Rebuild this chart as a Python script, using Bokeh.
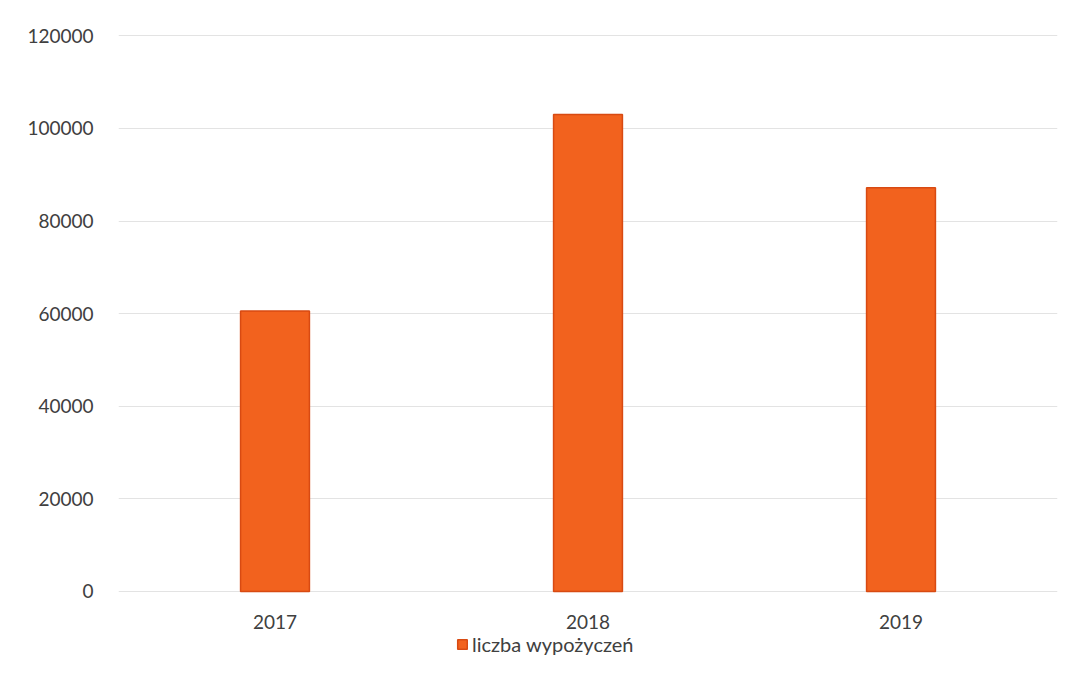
from bokeh.plotting import figure
from bokeh.models import FactorRange, Range1d, FixedTicker, NumeralTickFormatter, Legend, LegendItem
from bokeh.embed import file_html
from bokeh.resources import INLINE

years = ["2017", "2018", "2019"]
values = [60600, 103000, 87200]
y_ticks = [0, 20000, 40000, 60000, 80000, 100000, 120000]
series_name = "liczba wypożyczeń"

FONT = "Lato"
TEXT_COLOR = "#404040"

# frame extended below zero so the legend (drawn inside the frame) sits under the year labels
p = figure(frame_width=939, frame_height=629, x_range=FactorRange(factors=years),
           y_range=Range1d(-15333, 120500), output_backend="svg", toolbar_location=None,
           min_border_left=118, min_border_top=33, min_border_right=3, min_border_bottom=0)
p.outline_line_color = None
p.background_fill_color = "white"
p.border_fill_color = "white"

r = p.vbar(x=years, top=values, width=0.22, fill_color="#F2621E", line_color="#D84A12", line_width=1.5)

p.yaxis.ticker = FixedTicker(ticks=y_ticks)
p.yaxis.formatter = NumeralTickFormatter(format="0")
for ax in (p.xaxis, p.yaxis):
    ax.axis_line_color = None
    ax.major_tick_line_color = None
    ax.minor_tick_line_color = None
    ax.major_tick_out = 0
    ax.major_tick_in = 0
    ax.major_label_text_font = FONT
    ax.major_label_text_font_size = "19px"
    ax.major_label_text_color = TEXT_COLOR
p.yaxis.major_label_standoff = 25
p.xaxis.major_label_standoff = 24
p.xaxis.fixed_location = 0

p.xgrid.grid_line_color = None
p.ygrid.grid_line_color = "#E3E3E3"
p.ygrid.grid_line_width = 1

legend = Legend(items=[LegendItem(label=series_name, renderers=[r])], orientation="horizontal",
                location=(338, 6), border_line_color=None, background_fill_alpha=0,
                label_text_font=FONT, label_text_font_size="20px", label_text_color=TEXT_COLOR,
                label_height=20, glyph_width=12, glyph_height=12, padding=2, margin=0,
                label_standoff=4, spacing=0)
p.add_layout(legend)

open("out.html", "w").write(file_html(p, INLINE))
